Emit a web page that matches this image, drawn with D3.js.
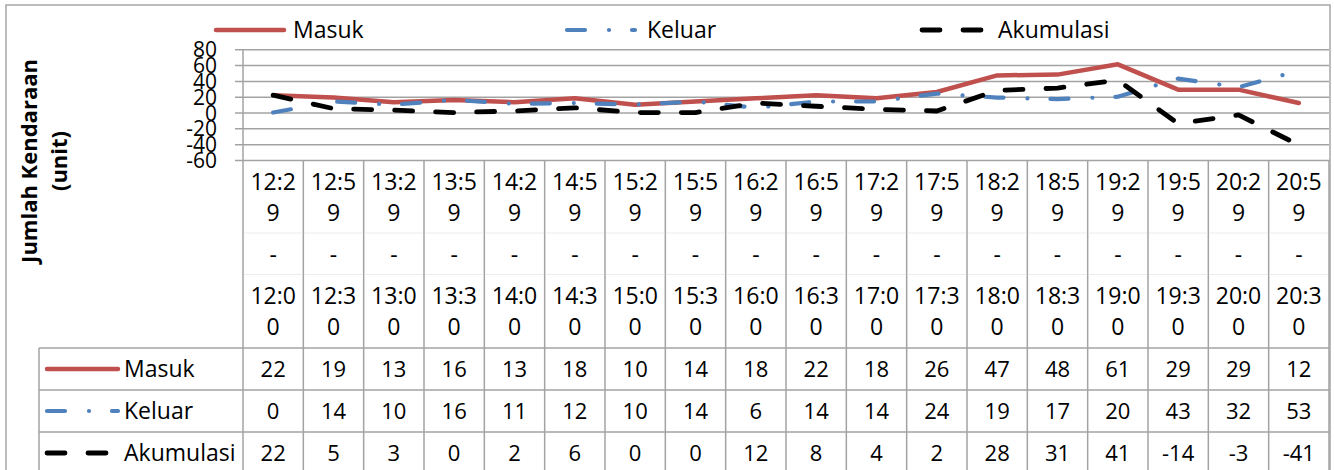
<!DOCTYPE html>
<html>
<head>
<meta charset="utf-8">
<script src="https://cdn.jsdelivr.net/npm/d3@7"></script>
<style>
  html, body { margin: 0; padding: 0; background: #fff; }
  svg { display: block; font-family: "Open Sans", "Noto Sans", sans-serif; }
</style>
</head>
<body>
<svg id="chart" width="1334" height="470"></svg>
<script>
// ---- data ----
const timeFrom = ["12:29","12:59","13:29","13:59","14:29","14:59","15:29","15:59","16:29","16:59","17:29","17:59","18:29","18:59","19:29","19:59","20:29","20:59"];
const timeTo   = ["12:00","12:30","13:00","13:30","14:00","14:30","15:00","15:30","16:00","16:30","17:00","17:30","18:00","18:30","19:00","19:30","20:00","20:30"];
const masuk     = [22,19,13,16,13,18,10,14,18,22,18,26,47,48,61,29,29,12];
const keluar    = [0,14,10,16,11,12,10,14,6,14,14,24,19,17,20,43,32,53];
const akumulasi = [22,5,3,0,2,6,0,0,12,8,4,2,28,31,41,-14,-3,-41];
const yTicks = [80,60,40,20,0,-20,-40,-60];
const seriesNames = ["Masuk","Keluar","Akumulasi"];
const yTitle = ["Jumlah Kendaraan","(unit)"];

// ---- layout ----
const W = 1334, H = 470;
const plotL = 243, plotR = 1329, plotT = 49.3, plotB = 160;
const tableL = 39;
const rowTops = [348, 390, 432, 474];
const FS = 22, FT = 23;
const gridColor = "#a3a3a3";

const svg = d3.select("#chart");
const cats = timeFrom.map((d,i) => d + " - " + timeTo[i]);
const x = d3.scaleBand().domain(cats).range([plotL, plotR]).paddingInner(0).paddingOuter(0);
const y = d3.scaleLinear().domain([-60, 80]).range([plotB, plotT]);
const xc = i => x(cats[i]) + x.bandwidth()/2;

const styles = [
  {name: seriesNames[0], data: masuk, color: "#C0504D", width: 4.5, dash: null},
  {name: seriesNames[1], data: keluar, color: "#4F81BD", width: 4.2, dash: "18,24,0.01,23"},
  {name: seriesNames[2], data: akumulasi, color: "#000000", width: 4.8, dash: "18,23"}
];

// outer border
svg.append("rect").attr("x", 6).attr("y", 5).attr("width", 1324).attr("height", 480)
  .attr("fill", "none").attr("stroke", "#a6a6a6").attr("stroke-width", 1.5);

// gridlines via axis
const yAxis = d3.axisLeft(y).tickValues(yTicks).tickSize(plotR - plotL + 8).tickFormat(d => d);
const gy = svg.append("g").attr("transform", `translate(${plotR},0)`).call(yAxis);
gy.select(".domain").remove();
gy.selectAll(".tick line").attr("stroke", gridColor).attr("stroke-width", 1.5);
gy.selectAll(".tick text").attr("x", -(plotR - 217)).attr("dy", "0.357em")
  .attr("font-size", 21).attr("fill", "#000").attr("font-family", "Open Sans").attr("text-anchor", "end");

// plot left border
svg.append("line").attr("x1", plotL).attr("x2", plotL).attr("y1", plotT).attr("y2", H + 10)
  .attr("stroke", gridColor).attr("stroke-width", 1.5);

// category column separators
const bounds = cats.map(c => x(c)).concat([plotR]);
svg.append("g").selectAll("line").data(bounds.slice(1)).join("line")
  .attr("x1", d => d).attr("x2", d => d).attr("y1", plotB).attr("y2", H + 10)
  .attr("stroke", gridColor).attr("stroke-width", 1.5);

// faint separators in label area
[233, 274.5].forEach(yy => {
  svg.append("g").selectAll("line").data(cats).join("line")
    .attr("x1", d => x(d) + 1).attr("x2", d => x(d) + x.bandwidth() - 1)
    .attr("y1", yy).attr("y2", yy).attr("stroke", "#ececec").attr("stroke-width", 1);
});

// category labels (wrapped)
const lineYs = [182, 213, 255, 296, 327];
cats.forEach((c, i) => {
  const a = timeFrom[i], b = timeTo[i];
  const parts = [a.slice(0,4), a.slice(4), "-", b.slice(0,4), b.slice(4)];
  svg.append("g").selectAll("text").data(parts).join("text")
    .attr("x", xc(i)).attr("y", (d, k) => lineYs[k] + 0.357*FT)
    .attr("text-anchor", "middle").attr("font-size", FT).text(d => d);
});

// table horizontal lines
rowTops.slice(0,3).forEach(t => {
  svg.append("line").attr("x1", tableL).attr("x2", plotR).attr("y1", t).attr("y2", t)
    .attr("stroke", gridColor).attr("stroke-width", 1.5);
});
svg.append("line").attr("x1", tableL).attr("x2", tableL).attr("y1", rowTops[0]).attr("y2", H + 10)
  .attr("stroke", gridColor).attr("stroke-width", 1.5);

// table rows
styles.forEach((s, r) => {
  const cy = (rowTops[r] + rowTops[r+1]) / 2;
  svg.append("line").attr("x1", 47).attr("x2", 118).attr("y1", cy).attr("y2", cy)
    .attr("stroke", s.color).attr("stroke-width", s.width).attr("stroke-linecap", "round")
    .attr("stroke-dasharray", s.dash);
  svg.append("text").attr("x", 124).attr("y", cy + 0.357*FT).attr("font-size", FT).text(s.name);
  svg.append("g").selectAll("text").data(s.data).join("text")
    .attr("x", (d, i) => xc(i)).attr("y", cy + 0.357*FS)
    .attr("text-anchor", "middle").attr("font-size", FS).text(d => d);
});

// series lines
const line = d3.line().x((d, i) => xc(i)).y(d => y(d));
styles.forEach(s => {
  svg.append("path").datum(s.data).attr("d", line)
    .attr("fill", "none").attr("stroke", s.color).attr("stroke-width", s.width)
    .attr("stroke-linecap", "round").attr("stroke-linejoin", "round")
    .attr("stroke-dasharray", s.dash);
});

// top legend
const legX = [216, 567, 922];
styles.forEach((s, i) => {
  svg.append("line").attr("x1", legX[i]).attr("x2", legX[i] + 68).attr("y1", 30).attr("y2", 30)
    .attr("stroke", s.color).attr("stroke-width", s.width).attr("stroke-linecap", "round")
    .attr("stroke-dasharray", s.dash);
  svg.append("text").attr("x", [293, 647, 998][i]).attr("y", 30 + 0.357*FT)
    .attr("font-size", FT).text(s.name);
});

// y axis title
const gt = svg.append("g").attr("transform", "translate(0,161) rotate(-90)");
gt.selectAll("text").data(yTitle).join("text")
  .attr("x", 0).attr("y", (d, k) => [37, 67][k])
  .attr("text-anchor", "middle").attr("font-size", 22).attr("font-weight", "bold").text(d => d);
</script>
</body>
</html>
